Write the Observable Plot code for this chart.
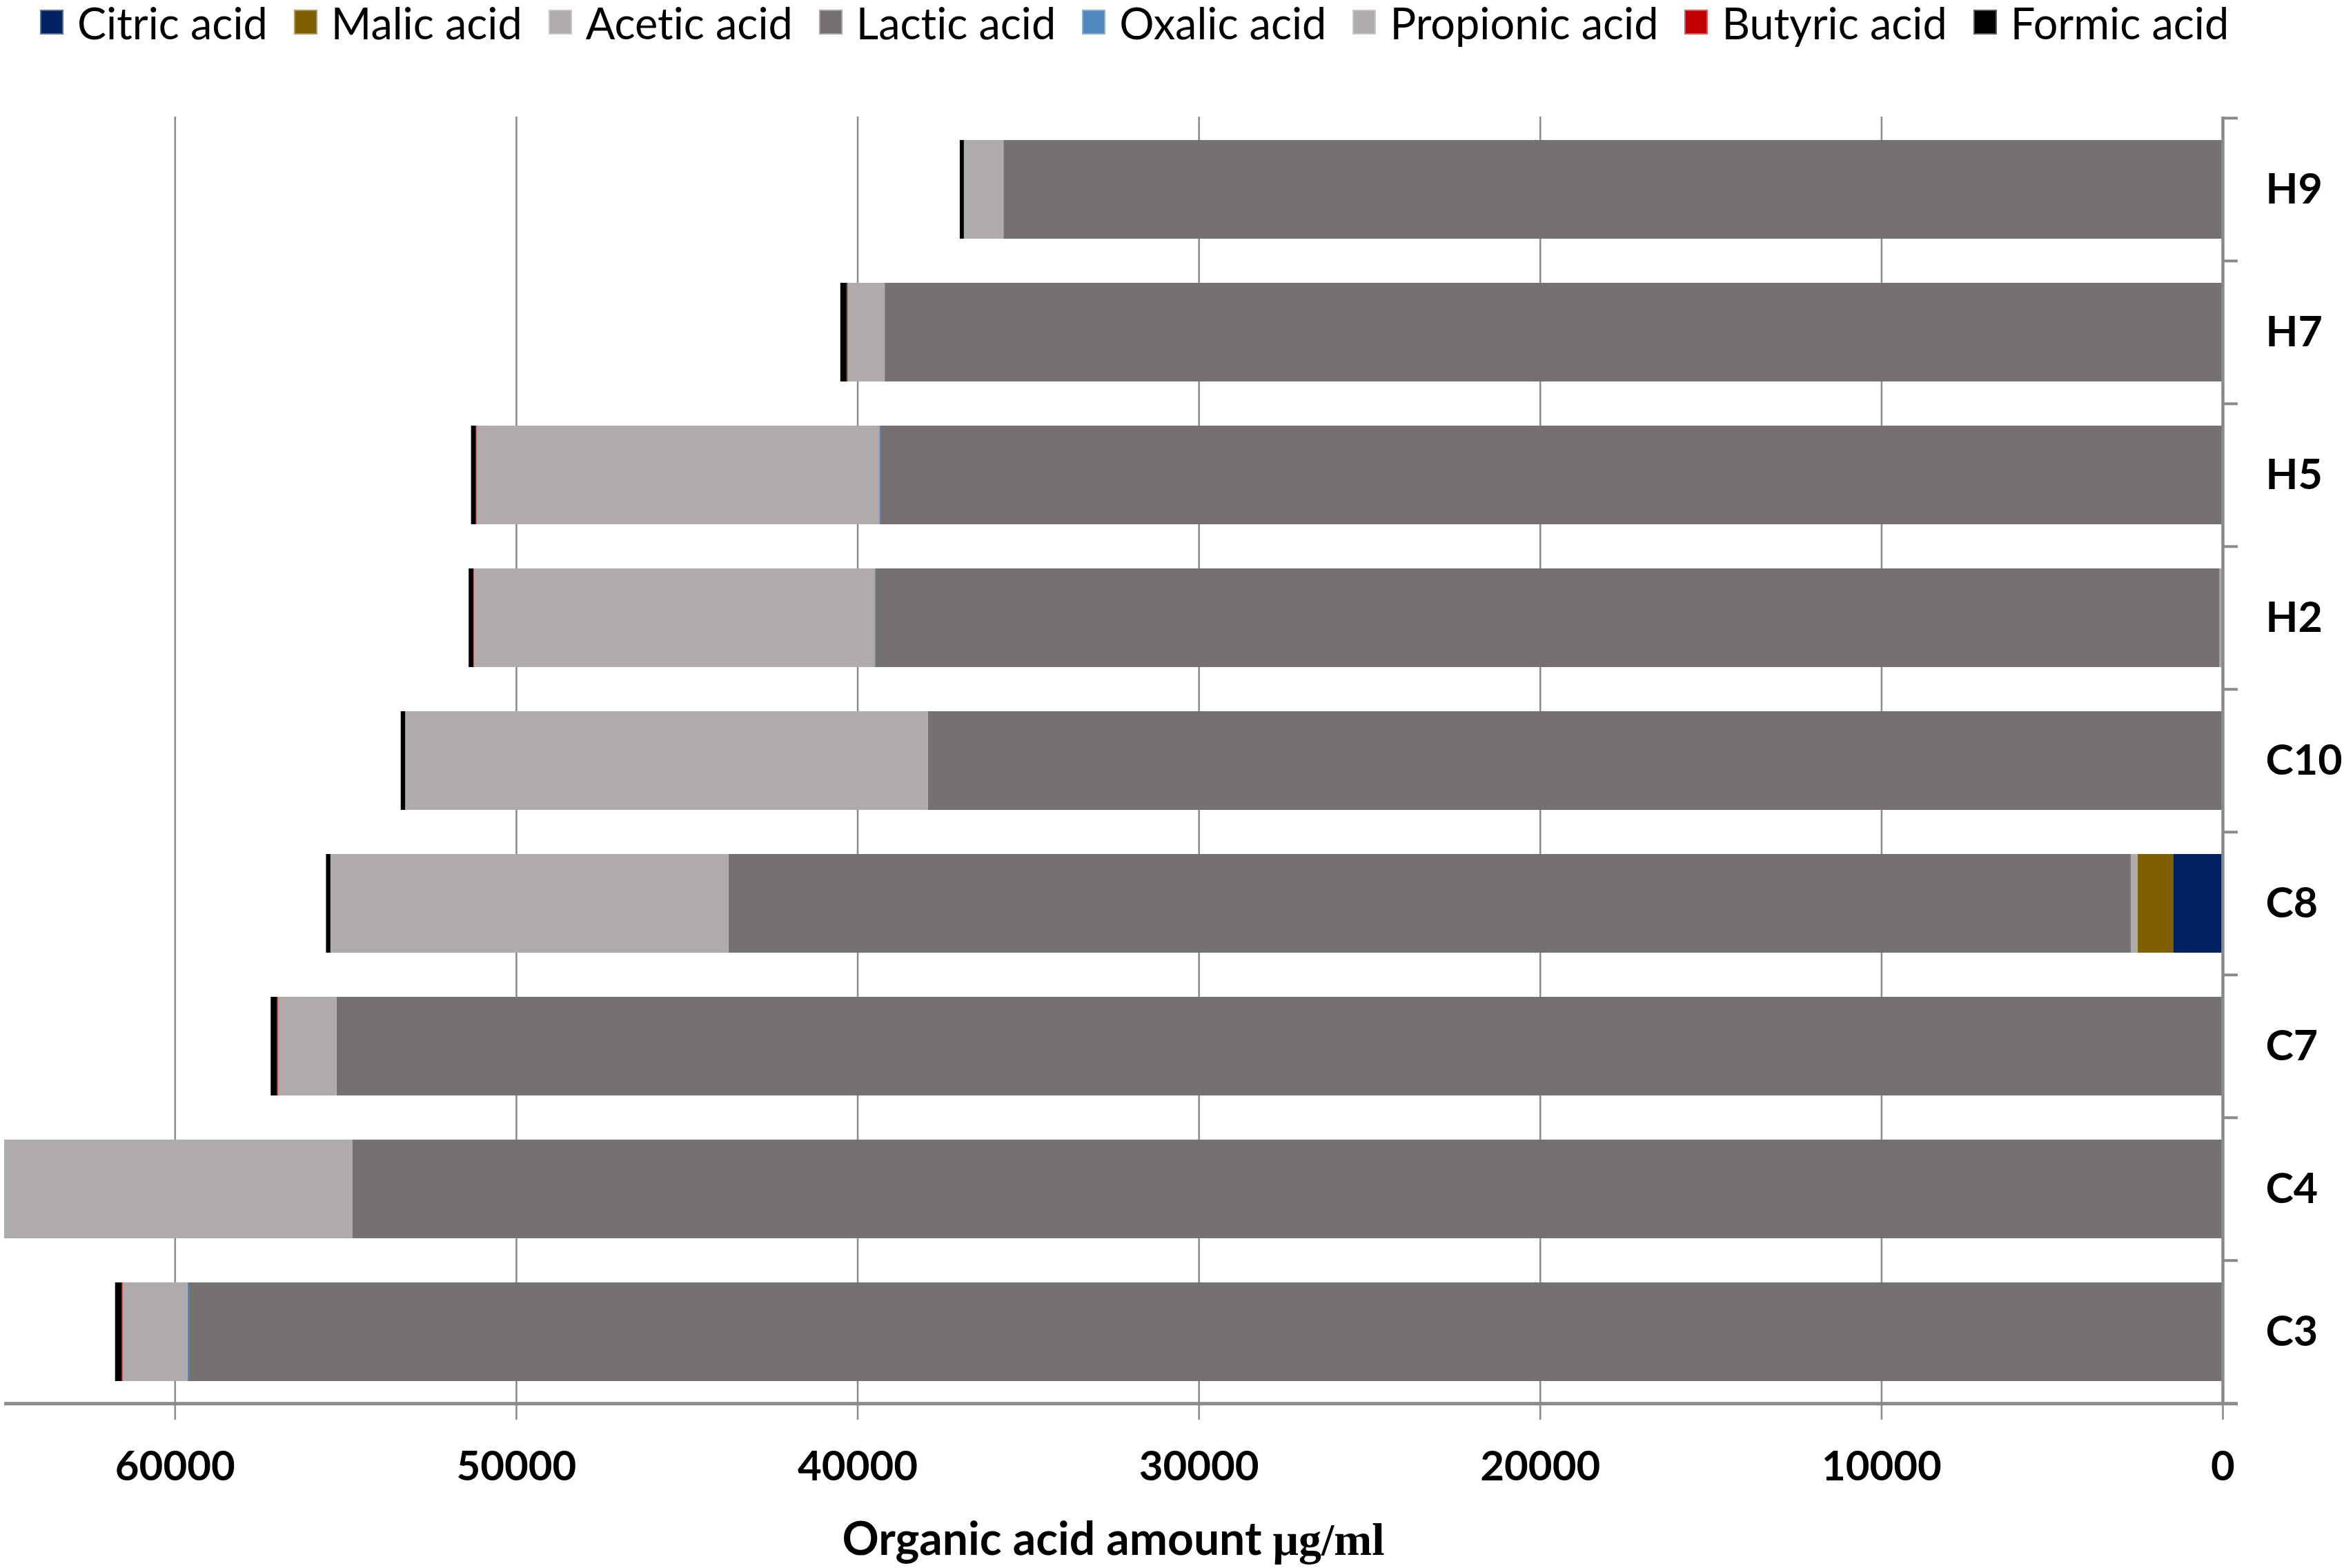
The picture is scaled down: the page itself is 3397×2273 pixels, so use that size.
<!DOCTYPE html>
<html>
<head>
<meta charset="utf-8">
<script src="https://cdn.jsdelivr.net/npm/d3@7"></script>
<script src="https://cdn.jsdelivr.net/npm/@observablehq/plot@0.6"></script>
<style>
  html, body { margin: 0; padding: 0; background: #fff; }
  body { width: 3397px; height: 2273px; overflow: hidden; font-family: Lato, "Open Sans", sans-serif; color: #000; font-variant-ligatures: none; }
  #legend { height: 64px; display: flex; align-items: center; padding-left: 58px; gap: 38px; font-size: 63px; }
  .item { display: flex; align-items: center; gap: 20px; white-space: nowrap; }
  .sw { width: 34px; height: 36px; box-sizing: border-box; border: 2px solid rgba(255,255,255,0.35); }
  #chart svg { display: block; font-variant-ligatures: none; }
</style>
</head>
<body>
<div id="legend"></div>
<div id="chart"></div>
<script>
// ---- data ----
const samples = ["H9", "H7", "H5", "H2", "C10", "C8", "C7", "C4", "C3"];
const acids = ["Citric acid", "Malic acid", "Acetic acid", "Lactic acid", "Oxalic acid", "Propionic acid", "Butyric acid", "Formic acid"];
const acidColors = ["#002060", "#7F6000", "#AFABAB", "#767171", "#4F87BE", "#AFABAB", "#C00000", "#000000"];

const citric    = [0, 0, 0, 0, 0, 1450, 0, 0, 0];
const malic     = [0, 0, 0, 0, 0, 1040, 0, 0, 0];
const acetic    = [0, 0, 0, 90, 0, 200, 0, 0, 0];
const lactic    = [35720, 39200, 39340, 39390, 37930, 41090, 55260, 54790, 59600];
const oxalic    = [0, 0, 20, 20, 0, 0, 0, 0, 30];
const propionic = [1160, 1090, 11800, 11740, 15320, 11660, 1720, 10210, 1900];
const butyric   = [0, 30, 20, 10, 0, 0, 30, 0, 30];
const formic    = [120, 180, 140, 140, 130, 130, 180, 0, 190];

const xTicks = [0, 10000, 20000, 30000, 40000, 50000, 60000];
const xMax = 65000;

const series = [citric, malic, acetic, lactic, oxalic, propionic, butyric, formic];
const rows = samples.flatMap((s, i) => acids.map((a, j) => ({sample: s, acid: a, value: series[j][i]})));

// ---- legend ----
const legend = d3.select("#legend");
acids.forEach((a, j) => {
  const it = legend.append("div").attr("class", "item");
  it.append("div").attr("class", "sw").style("background", acidColors[j]);
  it.append("span").text(a);
});

// ---- chart ----
const W = 3397, H = 2209, mt = 105, mb = 237, ml = 6, mr = 176;
const step = (H - mt - mb) / samples.length;
const grid = "#8a8a8a";

const chart = Plot.plot({
  width: W, height: H,
  marginTop: mt, marginBottom: mb, marginLeft: ml, marginRight: mr,
  style: {fontFamily: "Lato, 'Open Sans', sans-serif", fontWeight: "bold", fontSize: "60px", color: "#000", background: "#fff"},
  x: {domain: [xMax, 0], label: null},
  y: {domain: samples, paddingInner: 0.31, paddingOuter: 0.155, label: null},
  color: {domain: acids, range: acidColors},
  marks: [
    Plot.ruleX(xTicks.filter(d => d > 0), {stroke: grid, strokeWidth: 2.5}),
    Plot.barX(rows, {x: "value", y: "sample", fill: "acid"}),
    Plot.ruleX([0], {stroke: grid, strokeWidth: 4.5}),
    Plot.ruleY([samples[samples.length - 1]], {y: d => d, x1: xMax, x2: 0, dy: step / 2, insetRight: -22, stroke: grid, strokeWidth: 5}),
    Plot.ruleY(samples, {y: d => d, x1: 0, x2: 0, dy: -step / 2, insetRight: -22, stroke: grid, strokeWidth: 4}),
    Plot.axisX({ticks: xTicks, tickFormat: d => String(d), tickSize: 22, tickPadding: 45, stroke: grid, strokeWidth: 2.5, label: null}),
    Plot.axisY({anchor: "right", tickSize: 0, tickPadding: 62, fontSize: 61, label: null})
  ]
});
document.getElementById("chart").appendChild(chart);

// x-axis title
const svg = d3.select(chart);
const t = svg.append("text")
  .attr("x", (ml + W - mr) / 2)
  .attr("y", 2190)
  .attr("text-anchor", "middle")
  .attr("font-size", 66)
  .attr("font-weight", "bold")
  .attr("fill", "#000");
t.append("tspan").attr("font-family", "Lato, 'Open Sans', sans-serif").text("Organic acid amount ");
t.append("tspan").attr("font-family", "'Liberation Serif', 'DejaVu Serif', serif").text("μg/ml");
</script>
</body>
</html>
